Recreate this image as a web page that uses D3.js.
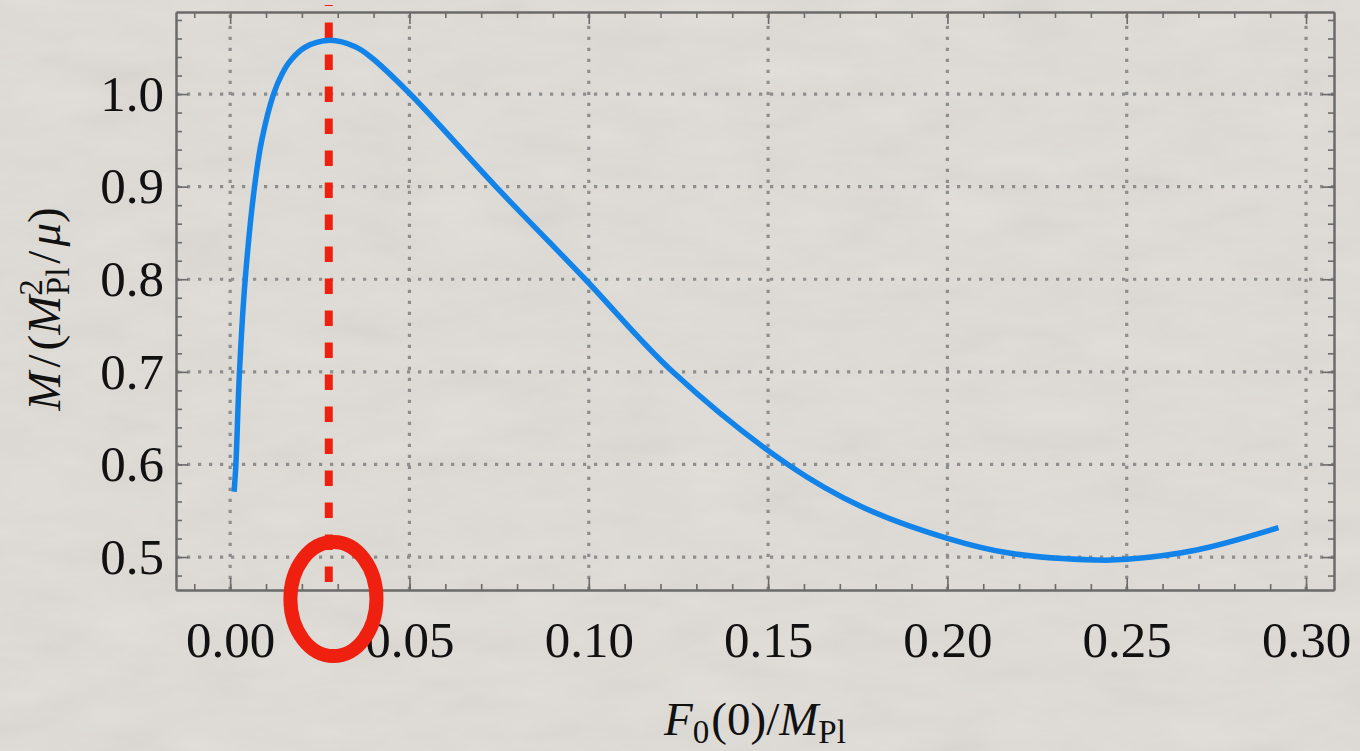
<!DOCTYPE html>
<meta charset="utf-8">
<style>
body { margin: 0; background: #dfdcd6; }
svg { display: block; }
.tick text { font-family: "Liberation Serif", serif; font-size: 51px; fill: #111; }
.axis path, .axis line { stroke: #6b6b6b; }
.axis path { stroke-width: 2; }
.axis line { stroke-width: 1.6; }
.grid line { stroke: #8e8e8e; stroke-width: 3.2; stroke-dasharray: 3.2,7.8; }
.label { font-family: "Liberation Serif", serif; fill: #111; }
</style>
<body>
<script src="https://cdn.jsdelivr.net/npm/d3@7"></script>
<script>
// curve: F0(0)/MPl vs M/(MPl^2/mu)
var fValues = [0.0011, 0.0016, 0.0026, 0.0042, 0.0068, 0.0088, 0.0121, 0.0145, 0.0168, 0.0209,
               0.0279, 0.0349, 0.0392, 0.0502, 0.0741, 0.099, 0.1234, 0.1555, 0.1761, 0.2,
               0.2176, 0.2415, 0.25, 0.2695, 0.2923];
var mValues = [0.5705, 0.6, 0.7, 0.8, 0.9, 0.95, 1.0, 1.022, 1.036, 1.0505,
               1.058, 1.051, 1.04, 1.0, 0.9, 0.8, 0.7, 0.6, 0.5543, 0.5202,
               0.504, 0.4968, 0.4975, 0.5076, 0.5317];

var xTicks = [0.00, 0.05, 0.10, 0.15, 0.20, 0.25, 0.30];
var xTickLabels = ["0.00", "0.05", "0.10", "0.15", "0.20", "0.25", "0.30"];
var yTicks = [0.5, 0.6, 0.7, 0.8, 0.9, 1.0];
var yTickLabels = ["0.5", "0.6", "0.7", "0.8", "0.9", "1.0"];
var xMinor = d3.range(-1, 31).map(function(i) { return i / 100; });
var yMinor = d3.range(24, 55).map(function(i) { return i / 50; });

// peak marker and the circled spot
var peakF = 0.0275, peakLine = [0.473, 1.0961];
var ring = {f: 0.0288, m: 0.4546, df: 0.012, dm: 0.0616};

var margin = {top: 12, right: 26, bottom: 161, left: 176},
    width = 1360 - margin.left - margin.right,
    height = 751 - margin.top - margin.bottom;

var x = d3.scaleLinear().domain([-0.0151, 0.3078]).range([0, width]);
var y = d3.scaleLinear().domain([0.4644, 1.0886]).range([height, 0]);

var root = d3.select("body").append("svg")
    .attr("width", 1360)
    .attr("height", 751);

// paper texture
var filt = root.append("defs").append("filter").attr("id", "paper")
    .attr("x", 0).attr("y", 0).attr("width", "100%").attr("height", "100%");
filt.append("feTurbulence").attr("type", "fractalNoise")
    .attr("baseFrequency", "0.012 0.035").attr("numOctaves", 4).attr("seed", 7);
filt.append("feColorMatrix").attr("type", "matrix")
    .attr("values", "0.33 0.33 0.33 0 0  0.33 0.33 0.33 0 0  0.33 0.33 0.33 0 0  0 0 0 0 0.1");
root.append("rect").attr("width", 1360).attr("height", 751).attr("fill", "#e1ded8");
root.append("rect").attr("width", 1360).attr("height", 751).attr("filter", "url(#paper)");

var svg = root.append("g")
    .attr("transform", "translate(" + margin.left + "," + margin.top + ")");

// dotted grid
var grid = svg.append("g").attr("class", "grid");
grid.selectAll(".gx").data(xTicks).enter().append("line")
    .attr("x1", function(d) { return x(d); }).attr("x2", function(d) { return x(d); })
    .attr("y1", height).attr("y2", 0);
grid.selectAll(".gy").data(yTicks).enter().append("line")
    .attr("y1", function(d) { return y(d); }).attr("y2", function(d) { return y(d); })
    .attr("x1", 0).attr("x2", width);

// red dashed line at the maximum
svg.append("line")
    .attr("x1", x(peakF)).attr("x2", x(peakF))
    .attr("y1", y(peakLine[0])).attr("y2", y(peakLine[1]))
    .attr("stroke", "#ef2010").attr("stroke-width", 8)
    .attr("stroke-dasharray", "15.5,16.5");

// the curve
var pts = fValues.map(function(f, i) { return [f, mValues[i]]; });
svg.append("path")
    .datum(pts)
    .attr("fill", "none")
    .attr("stroke", "#1283e8")
    .attr("stroke-width", 5.5)
    .attr("d", d3.line()
        .x(function(d) { return x(d[0]); })
        .y(function(d) { return y(d[1]); })
        .curve(d3.curveCatmullRom.alpha(0.5)));

// axes: minor then major ticks on all sides
function minorAx(a, vals) { return a.tickValues(vals).tickSize(-6).tickSizeOuter(0).tickFormat(""); }
svg.append("g").attr("class", "axis").attr("transform", "translate(0," + height + ")")
    .call(minorAx(d3.axisBottom(x), xMinor));
svg.append("g").attr("class", "axis")
    .call(minorAx(d3.axisTop(x), xMinor));
svg.append("g").attr("class", "axis")
    .call(minorAx(d3.axisLeft(y), yMinor));
svg.append("g").attr("class", "axis").attr("transform", "translate(" + width + ",0)")
    .call(minorAx(d3.axisRight(y), yMinor));

svg.append("g").attr("class", "axis").attr("transform", "translate(0," + height + ")")
    .call(d3.axisBottom(x).tickValues(xTicks).tickSize(-12).tickSizeOuter(0).tickPadding(31)
        .tickFormat(function(d, i) { return xTickLabels[i]; }));
svg.append("g").attr("class", "axis")
    .call(d3.axisTop(x).tickValues(xTicks).tickSize(-12).tickSizeOuter(0).tickFormat(""));
svg.append("g").attr("class", "axis")
    .call(d3.axisLeft(y).tickValues(yTicks).tickSize(-12).tickSizeOuter(0).tickPadding(12)
        .tickFormat(function(d, i) { return yTickLabels[i]; }));
svg.append("g").attr("class", "axis").attr("transform", "translate(" + width + ",0)")
    .call(d3.axisRight(y).tickValues(yTicks).tickSize(-12).tickSizeOuter(0).tickFormat(""));

svg.selectAll(".axis").attr("font-family", null).attr("font-size", null);
svg.selectAll(".tick text").attr("fill", null);

// red ring around the peak position
svg.append("ellipse")
    .attr("cx", x(ring.f)).attr("cy", y(ring.m))
    .attr("rx", x(ring.f + ring.df) - x(ring.f))
    .attr("ry", y(ring.m) - y(ring.m + ring.dm))
    .attr("fill", "none").attr("stroke", "#ef2010").attr("stroke-width", 14);

// x label: F_0(0)/M_Pl
var xl = root.append("text").attr("class", "label")
    .attr("x", margin.left + width / 2).attr("y", 735)
    .attr("text-anchor", "middle").style("font-size", "47px");
xl.append("tspan").style("font-style", "italic").text("F");
xl.append("tspan").attr("dy", 8).style("font-size", "33px").text("0");
xl.append("tspan").attr("dy", -8).attr("dx", 2).text("(0)/");
xl.append("tspan").style("font-style", "italic").text("M");
xl.append("tspan").attr("dy", 8).style("font-size", "33px").text("Pl");

// y label: M/(M_Pl^2/mu)
var yl = root.append("text").attr("class", "label")
    .attr("transform", "translate(60,309) rotate(-90)")
    .attr("text-anchor", "middle").style("font-size", "47px");
yl.append("tspan").style("font-style", "italic").text("M");
yl.append("tspan").attr("dx", 4).text("/");
yl.append("tspan").attr("dx", 4).text("(");
yl.append("tspan").style("font-style", "italic").text("M");
yl.append("tspan").attr("dy", -18).style("font-size", "33px").text("2");
yl.append("tspan").attr("dy", 27).attr("dx", -16).style("font-size", "33px").text("Pl");
yl.append("tspan").attr("dy", -9).attr("dx", 4).text("/");
yl.append("tspan").attr("dx", 4).style("font-style", "italic").text("μ");
yl.append("tspan").text(")");
</script>
</body>
